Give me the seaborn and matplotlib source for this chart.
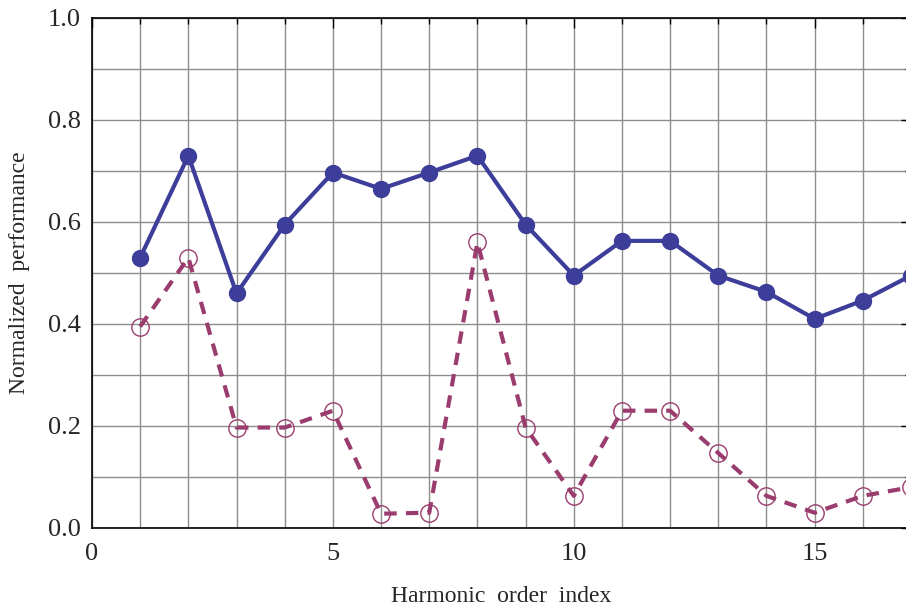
import numpy as np
import pandas as pd
import matplotlib
matplotlib.use("Agg")
import matplotlib.pyplot as plt
import seaborn as sns
from matplotlib.ticker import MultipleLocator

# DATA
harmonic = list(range(1, 18))
perf_a = [0.53, 0.73, 0.46, 0.595, 0.697, 0.665, 0.697, 0.73, 0.595,
          0.495, 0.563, 0.563, 0.495, 0.463, 0.41, 0.446, 0.495]
perf_b = [0.395, 0.53, 0.197, 0.197, 0.23, 0.028, 0.03, 0.56, 0.197,
          0.063, 0.23, 0.23, 0.147, 0.063, 0.03, 0.063, 0.08]

df = pd.DataFrame({"x": harmonic, "a": perf_a, "b": perf_b})

sns.set_theme(style="white")
plt.rcParams["font.family"] = ["Liberation Serif", "DejaVu Serif"]

BLUE = "#3d3d9a"
PURPLE = "#9a3d6e"

fig = plt.figure(figsize=(9.06, 6.11), dpi=100)
# axes reaches slightly past the right edge, like the cropped original
ax = fig.add_axes([92 / 906, (611 - 528) / 611, (911 - 92) / 906, 510 / 611])

sns.lineplot(data=df, x="x", y="a", ax=ax, color=BLUE, linewidth=3,
             marker="o", markersize=12.5, markeredgewidth=0, clip_on=False)
sns.lineplot(data=df, x="x", y="b", ax=ax, color=PURPLE, linewidth=3,
             linestyle=(0, (3, 2.2)), marker="o", markersize=12.5,
             markerfacecolor="none", markeredgecolor=PURPLE,
             markeredgewidth=1.0, clip_on=False)

ax.set_xlim(0, 17)
ax.set_ylim(0, 1)
ax.xaxis.set_major_locator(MultipleLocator(5))
ax.xaxis.set_minor_locator(MultipleLocator(1))
ax.yaxis.set_major_locator(MultipleLocator(0.2))
ax.yaxis.set_minor_locator(MultipleLocator(0.1))
ax.yaxis.set_major_formatter(matplotlib.ticker.FormatStrFormatter("%.1f"))

ax.grid(True, which="both", color="#8e8e8e", linewidth=1.0)
ax.set_axisbelow(True)

ax.tick_params(which="both", direction="in", top=True, right=True,
               color="black", labelsize=19, width=1)
ax.tick_params(which="major", length=7)
ax.tick_params(which="minor", length=4)
ax.tick_params(axis="x", which="major", pad=11)
ax.tick_params(axis="y", which="major", pad=8)

for s in ax.spines.values():
    s.set_color("black")
    s.set_linewidth(1.2)

ax.set_xlabel("Harmonic  order  index", fontsize=17, labelpad=15)
ax.set_ylabel("Normalized  performance", fontsize=17, labelpad=13)

fig.savefig("out.png", dpi=100)
